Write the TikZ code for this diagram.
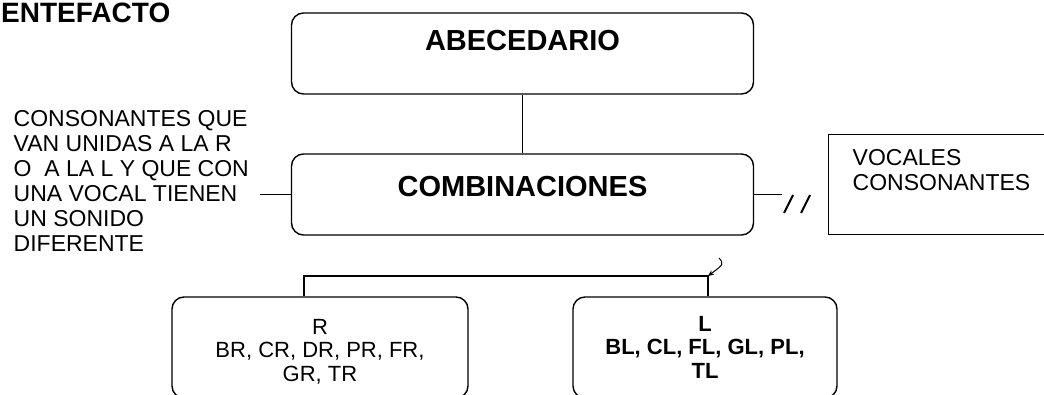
\documentclass[tikz,border=0pt]{standalone}
\usepackage{fontspec}
\setmainfont{Liberation Sans}
\usetikzlibrary{arrows.meta,positioning}
\tikzset{
	box/.style ={draw, rounded corners=12pt, inner sep=0pt},
	txt/.style = {inner sep=0pt, align=left, font=\fontsize{23}{25}\selectfont},
	lst/.style = {inner sep=0pt, align=center, font=\fontsize{22}{23.5}\selectfont}
}

\begin{document}
\begin{tikzpicture}[x=1pt, y=-1pt, line width=1.4pt]
		\tikzstyle{big} = [box, font=\bfseries\fontsize{29}{30}\selectfont,
		minimum width=462pt, anchor=base]
		\tikzstyle{small} = [box, minimum height=101pt]
		\clip (0,0) rectangle (1044,394);
		\path
		node[anchor=base east, inner sep=0pt, font=\bfseries\fontsize{28}{30}\selectfont] (title) at (171,22) {ENTEFACTO}
		node[big, text height=37pt, text depth=44pt] (abc) at (522.5,50) {ABECEDARIO}
		node[big, text height=42pt, text depth=39pt] (comb) at (522.5,196) {COMBINACIONES}
		node[txt, anchor=north west] (nota) at (13,110) {CONSONANTES QUE\\VAN UNIDAS A LA R\\O\ \ A LA L Y QUE CON\\UNA VOCAL TIENEN\\UN SONIDO\\DIFERENTE}
		node[draw, inner sep=0pt, anchor=north west, minimum width=240pt, minimum height=100pt] (voc) at (828,134) {}
		node[txt, anchor=north west] (voctxt) at (852,149) {VOCALES\\CONSONANTES}
		node[small, minimum width=296pt] (rbox) at (320,347.5) {}
		node[small, minimum width=264pt] (lbox) at (705,347.5) {}
		node[lst, below=22pt of rbox.north] (rtxt) {R\\BR, CR, DR, PR, FR,\\GR, TR}
		node[lst, font=\bfseries\fontsize{22}{23.5}\selectfont, below=19pt of lbox.north] (ltxt) {L\\BL, CL, FL, GL, PL,\\TL}
		coordinate (lft) at (260,194.5)
		coordinate (rgt) at (782,194.5)
		coordinate (jl) at (304,276)
		coordinate (jr) at (708,276)
		coordinate (sq) at (719,258)
		(abc) edge (comb)
		(lft) edge (comb.west)
		(comb.east) edge (rgt)
		;
		% las dos rayas //
		\draw[line width=2pt] (784,213) -- (793,195);
		\draw[line width=2pt] (801,213) -- (810,195);
		\draw (jl |- rbox.north) -- (jl) -- (jr) -- (jr |- lbox.north);
		\draw[-{Stealth[length=6pt,width=5pt]}, line width=1pt] (sq) .. controls (724,264) .. (jr);
	    \end{tikzpicture}
\end{document}
